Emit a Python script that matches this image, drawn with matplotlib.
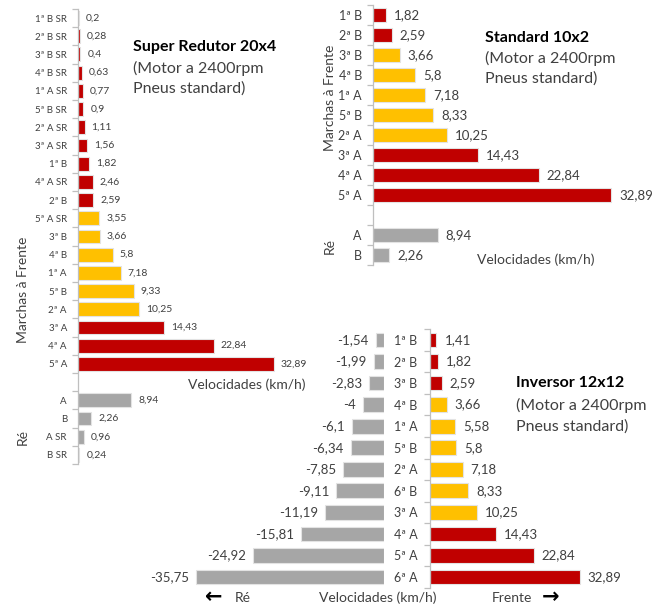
import numpy as np
import matplotlib
matplotlib.use('Agg')
from matplotlib import pyplot as plt

plt.rcParams['font.family'] = ['Lato', 'DejaVu Sans']

RED = '#C00000'
YEL = '#FFC000'
GRAY = '#A6A6A6'
AXC = '#BFBFBF'
TXT = '#404040'

# Super Redutor 20x4
sr_labels = ['1ª B SR', '2ª B SR', '3ª B SR', '4ª B SR', '1ª A SR', '5ª B SR', '2ª A SR',
             '3ª A SR', '1ª B', '4ª A SR', '2ª B', '5ª A SR', '3ª B', '4ª B', '1ª A',
             '5ª B', '2ª A', '3ª A', '4ª A', '5ª A']
sr_vals = [0.2, 0.28, 0.4, 0.63, 0.77, 0.9, 1.11, 1.56, 1.82, 2.46, 2.59, 3.55, 3.66,
           5.8, 7.18, 9.33, 10.25, 14.43, 22.84, 32.89]
sr_grp = ['r', 'r', 'r', 'r', 'r', 'r', 'r', 'r', 'r', 'r', 'r', 'y', 'y', 'y', 'y',
          'y', 'y', 'r', 'r', 'r']
sr_re_labels = ['A', 'B', 'A SR', 'B SR']
sr_re_vals = [8.94, 2.26, 0.96, 0.24]

# Standard 10x2
st_labels = ['1ª B', '2ª B', '3ª B', '4ª B', '1ª A', '5ª B', '2ª A', '3ª A', '4ª A', '5ª A']
st_vals = [1.82, 2.59, 3.66, 5.8, 7.18, 8.33, 10.25, 14.43, 22.84, 32.89]
st_grp = ['r', 'r', 'y', 'y', 'y', 'y', 'y', 'r', 'r', 'r']
st_re_labels = ['A', 'B']
st_re_vals = [8.94, 2.26]

# Inversor 12x12
inv_labels = ['1ª B', '2ª B', '3ª B', '4ª B', '1ª A', '5ª B', '2ª A', '6ª B', '3ª A',
              '4ª A', '5ª A', '6ª A']
inv_frente = [1.41, 1.82, 2.59, 3.66, 5.58, 5.8, 7.18, 8.33, 10.25, 14.43, 22.84, 32.89]
inv_grp = ['r', 'r', 'r', 'y', 'y', 'y', 'y', 'y', 'y', 'r', 'r', 'r']
inv_re = [-1.54, -1.99, -2.83, -4, -6.1, -6.34, -7.85, -9.11, -11.19, -15.81, -24.92, -35.75]

cmap = {'r': RED, 'y': YEL, 'g': GRAY}

W, H = 652, 607


def box(l, t, r, b):
    return [l / W, 1 - b / H, (r - l) / W, (b - t) / H]


def fmt(v):
    return f"{v:g}".replace('.', ',')


def bars(ax, pos, vals, colors, h, fs, off=7):
    ax.barh(pos, vals, height=h, color=colors, edgecolor='#E3E3E3', linewidth=0.8, zorder=2)
    for p, v in zip(pos, vals):
        if v >= 0:
            ax.annotate(fmt(v), (v, p), xytext=(off, 0), textcoords='offset pixels',
                        va='center', ha='left', fontsize=fs, color=TXT, annotation_clip=False)
        else:
            ax.annotate(fmt(v), (v, p), xytext=(-off, 0), textcoords='offset pixels',
                        va='center', ha='right', fontsize=fs, color=TXT, annotation_clip=False)


def style_cat_axis(ax, n, fs, pad):
    for s in ['top', 'right', 'bottom']:
        ax.spines[s].set_visible(False)
    ax.spines['left'].set_color(AXC)
    ax.spines['left'].set_linewidth(0.9)
    ax.set_xticks([])
    ax.set_yticks(np.arange(n) - 0.5, minor=True)
    ax.tick_params(axis='y', which='major', length=0, labelsize=fs, pad=pad, labelcolor=TXT)
    ax.tick_params(axis='y', which='minor', length=4, color=AXC, width=0.9)


def px(x, y):
    return x / W, 1 - y / H


fig = plt.figure(figsize=(6.52, 6.07), dpi=100)

# ---- Super Redutor 20x4
ax1 = fig.add_axes(box(78, 8.9, 316, 464))
n1 = len(sr_labels) + 1 + len(sr_re_labels)
pos_f = np.arange(len(sr_labels))
pos_r = np.arange(len(sr_re_labels)) + len(sr_labels) + 1
bars(ax1, pos_f, sr_vals, [cmap[g] for g in sr_grp], 0.76, 7.5)
bars(ax1, pos_r, sr_re_vals, GRAY, 0.76, 7.5)
ax1.set_xlim(0, 40)
ax1.set_ylim(n1 - 0.5, -0.5)
ax1.set_yticks(list(pos_f) + [len(sr_labels)] + list(pos_r))
ax1.set_yticklabels(sr_labels + [''] + sr_re_labels)
style_cat_axis(ax1, n1 + 1, 7, 8)

fig.text(*px(133, 47), 'Super Redutor 20x4', fontsize=11.5, fontweight='bold', color='black', va='center')
fig.text(*px(133, 68), '(Motor a 2400rpm', fontsize=11.5, color=TXT, va='center')
fig.text(*px(133, 89), 'Pneus standard)', fontsize=11.5, color=TXT, va='center')
fig.text(*px(247, 385), 'Velocidades (km/h)', fontsize=10, color=TXT, va='center', ha='center')
fig.text(*px(23, 290), 'Marchas à Frente', fontsize=10, color=TXT, va='center', ha='center', rotation=90)
fig.text(*px(23, 437), 'Ré', fontsize=10, color=TXT, va='center', ha='center', rotation=90)

# ---- Standard 10x2
ax2 = fig.add_axes(box(373, 5, 634, 265))
n2 = len(st_labels) + 1 + len(st_re_labels)
pos_f = np.arange(len(st_labels))
pos_r = np.arange(len(st_re_labels)) + len(st_labels) + 1
bars(ax2, pos_f, st_vals, [cmap[g] for g in st_grp], 0.7, 9.5, 8)
bars(ax2, pos_r, st_re_vals, GRAY, 0.7, 9.5, 8)
ax2.set_xlim(0, 36)
ax2.set_ylim(n2 - 0.5, -0.5)
ax2.set_yticks(list(pos_f) + [len(st_labels)] + list(pos_r))
ax2.set_yticklabels(st_labels + [''] + st_re_labels)
style_cat_axis(ax2, n2 + 1, 9, 8)

fig.text(*px(485, 38), 'Standard 10x2', fontsize=11.5, fontweight='bold', color='black', va='center')
fig.text(*px(485, 58), '(Motor a 2400rpm', fontsize=11.5, color=TXT, va='center')
fig.text(*px(485, 79), 'Pneus standard)', fontsize=11.5, color=TXT, va='center')
fig.text(*px(536, 260), 'Velocidades (km/h)', fontsize=10, color=TXT, va='center', ha='center')
fig.text(*px(330, 98), 'Marchas à Frente', fontsize=10, color=TXT, va='center', ha='center', rotation=90)
fig.text(*px(330, 246), 'Ré', fontsize=10, color=TXT, va='center', ha='center', rotation=90)

# ---- Inversor 12x12
n3 = len(inv_labels)
pos = np.arange(n3)
ax3 = fig.add_axes(box(430, 329.2, 612, 587.8))
bars(ax3, pos, inv_frente, [cmap[g] for g in inv_grp], 0.68, 9.5, 8)
ax3.set_xlim(0, 40)
ax3.set_ylim(n3 - 0.5, -0.5)
ax3.set_yticks(pos)
ax3.set_yticklabels(inv_labels)
style_cat_axis(ax3, n3 + 1, 9, 9)

ax4 = fig.add_axes(box(195, 329.2, 384, 587.8))
bars(ax4, pos, inv_re, GRAY, 0.68, 9.5, 7)
ax4.set_xlim(-36, 0)
ax4.set_ylim(n3 - 0.5, -0.5)
ax4.axis('off')

fig.text(*px(516, 383), 'Inversor 12x12', fontsize=11.5, fontweight='bold', color='black', va='center')
fig.text(*px(516, 405), '(Motor a 2400rpm', fontsize=11.5, color=TXT, va='center')
fig.text(*px(516, 427), 'Pneus standard)', fontsize=11.5, color=TXT, va='center')
fig.text(*px(378, 598), 'Velocidades (km/h)', fontsize=10, color=TXT, va='center', ha='center')
fig.text(*px(235, 598), 'Ré', fontsize=10, color=TXT, va='center', ha='left')
fig.text(*px(492, 598), 'Frente', fontsize=10, color=TXT, va='center', ha='left')
fig.text(*px(214, 597), '←', fontsize=15, fontweight='bold', color='black', va='center', ha='center',
         family=['DejaVu Sans'])
fig.text(*px(551, 597), '→', fontsize=15, fontweight='bold', color='black', va='center', ha='center',
         family=['DejaVu Sans'])

fig.savefig('out.png', dpi=100)
